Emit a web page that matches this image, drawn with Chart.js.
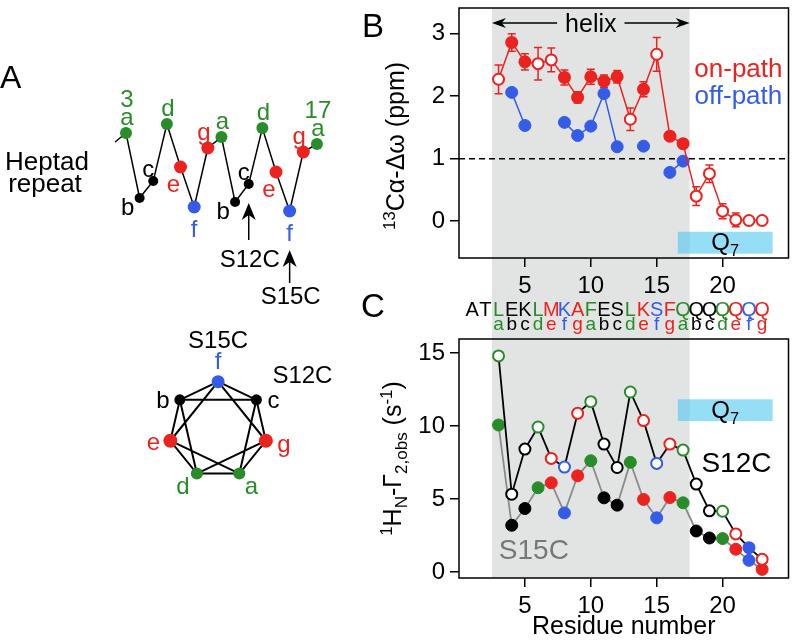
<!DOCTYPE html>
<html>
<head>
<meta charset="utf-8">
<script src="https://cdn.jsdelivr.net/npm/chart.js@4.4.0/dist/chart.umd.min.js"></script>
<style>
  body { margin: 0; background: #fff; }
  #fig { position: relative; width: 796px; height: 640px; overflow: hidden;
         font-family: "Liberation Sans", Arial, Helvetica, sans-serif; }
  canvas { position: absolute; }
  .lab { position: absolute; color: #000; line-height: 1; white-space: nowrap; }
</style>
</head>
<body>
<div id="fig">
  <canvas id="heptad" width="360" height="330" style="left:0px;top:0px"></canvas>
  <canvas id="wheel" width="240" height="200" style="left:100px;top:330px"></canvas>
  <canvas id="chartB" width="456" height="296" style="left:340px;top:0px"></canvas>
  <canvas id="chartC" width="456" height="344" style="left:340px;top:296px"></canvas>
  <div class="lab" style="left:0px;top:61px;font-size:32px">A</div>
  <div class="lab" style="left:362px;top:9px;font-size:33px">B</div>
  <div class="lab" style="left:361px;top:289px;font-size:33px">C</div>
  <div class="lab" style="left:0px;top:148px;width:94px;text-align:center;font-size:26px;line-height:26px">Heptad</div>
  <div class="lab" style="left:0px;top:170px;width:90px;text-align:center;font-size:26px;line-height:26px">repeat</div>
</div>
<script>
// ---- data ----
const residues = [3, 4, 5, 6, 7, 8, 9, 10, 11, 12, 13, 14, 15, 16, 17, 18, 19, 20, 21, 22, 23];
const heptad = ['a', 'b', 'c', 'd', 'e', 'f', 'g', 'a', 'b', 'c', 'd', 'e', 'f', 'g', 'a', 'b', 'c', 'd', 'e', 'f', 'g'];
const sequence = ['A', 'T', 'L', 'E', 'K', 'L', 'M', 'K', 'A', 'F', 'E', 'S', 'L', 'K', 'S', 'F', 'Q', 'Q', 'Q', 'Q', 'Q', 'Q', 'Q'];

// B: 13C alpha secondary shifts (ppm)
const onPath = [2.27, 2.86, 2.55, 2.52, 2.58, 2.30, 1.98, 2.31, 2.24, 2.31, 1.63, 2.11, 2.67, 1.36, 1.24, 0.40, 0.76, 0.16, 0.02, 0.01, 0.01];
const onPathErr = [0.23, 0.14, 0.13, 0.26, 0.19, 0.12, 0.09, 0.12, 0.1, 0.1, 0.18, 0.12, 0.27, 0.05, 0.05, 0.15, 0.14, 0.12, 0.11, 0, 0];
const onPathFilled = [0, 1, 1, 0, 0, 1, 1, 1, 1, 1, 0, 1, 0, 1, 1, 0, 0, 0, 0, 0, 0];
const offPath = [null, 2.06, 1.53, null, null, 1.58, 1.37, 1.52, 2.04, 1.19, null, 1.20, null, 0.78, 0.96, null, null, null, null, null, null];

// C: PRE rates (s-1)
const s12c = [14.8, 5.33, 8.42, 9.93, 7.78, 7.19, 10.87, 11.67, 8.76, 7.16, 12.33, 10.37, 7.44, 8.76, 8.35, 6.02, 4.19, 4.16, 2.61, 1.67, 0.87];
const s12cFilled = [0, 0, 0, 0, 0, 0, 0, 0, 0, 0, 0, 0, 0, 0, 0, 0, 0, 0, 0, 1, 0];
const s15c = [10.07, 3.20, 4.35, 5.77, 6.11, 4.05, 6.59, 7.62, 5.08, 4.58, 7.51, 4.97, 3.71, 5.10, 4.74, 2.81, 2.33, 2.29, 1.56, 0.80, 0.18];

// tick labels
const xTicks = [5, 10, 15, 20];
const yTicksB = [0, 1, 2, 3];
const yTicksC = [0, 5, 10, 15];

// ranges (residue / value space)
const helixRange = [2.5, 17.5];
const q7Range = [16.6, 23.8];
const q7B = [-0.52, -0.17];
const q7C = [10.34, 11.83];

// A: heptad zigzag (residues 3-17, height in arbitrary units)
const zigResidues = [3, 4, 5, 6, 7, 8, 9, 10, 11, 12, 13, 14, 15, 16, 17];
const zigHeight = [87, 22, 39, 96, 53, 13, 72, 83, 18, 36, 92, 48, 9, 68, 76];
const zigStub = { x: 2.2, y: 78 };
const wheelOrder = ['f', 'c', 'g', 'a', 'd', 'e', 'b']; // clockwise from top

// ---- style ----
const FONT = '"Liberation Sans", Arial, Helvetica, sans-serif';
const RED = 'rgb(236,34,30)';
const BLUE = 'rgb(52,92,232)';
const GREEN = 'rgb(40,140,40)';
const BLACK = '#000';
const GRAY = '#8a8a8a';
const SHADE = 'rgb(226,228,228)';
const CYAN = 'rgba(80,200,240,0.6)';
const heptadColor = { a: GREEN, b: BLACK, c: BLACK, d: GREEN, e: RED, f: BLUE, g: RED };

Chart.defaults.font.family = FONT;
Chart.defaults.color = '#000';
Chart.defaults.animation = false;
Chart.defaults.events = [];
Chart.defaults.plugins.legend.display = false;
Chart.defaults.plugins.tooltip.enabled = false;

// text with super/subscripts
function rich(ctx, parts, x, y, size, color, vertical) {
  ctx.save();
  ctx.translate(x, y);
  if (vertical) ctx.rotate(-Math.PI / 2);
  ctx.fillStyle = color;
  ctx.textBaseline = 'alphabetic';
  ctx.textAlign = 'left';
  let w = 0;
  const m = parts.map(([t, k]) => {
    const s = k ? size * 0.68 : size;
    ctx.font = s + 'px ' + FONT;
    const pw = ctx.measureText(t).width;
    w += pw;
    return [t, k, s, pw];
  });
  let cx = -w / 2;
  const base = size * 0.36;
  m.forEach(([t, k, s, pw]) => {
    ctx.font = s + 'px ' + FONT;
    const dy = k === 'sup' ? -size * 0.38 : k === 'sub' ? size * 0.24 : 0;
    ctx.fillText(t, cx, base + dy);
    cx += pw;
  });
  ctx.restore();
}
function txt(ctx, s, x, y, size, color) { rich(ctx, [[s, '']], x, y, size, color); }

function arrowHead(ctx, x, y, dx, dy, len, half) {
  // tip at (x,y), pointing along (dx,dy)
  const px = -dy, py = dx;
  ctx.beginPath();
  ctx.moveTo(x, y);
  ctx.lineTo(x - dx * len + px * half, y - dy * len + py * half);
  ctx.lineTo(x - dx * len * 0.7, y - dy * len * 0.7);
  ctx.lineTo(x - dx * len - px * half, y - dy * len - py * half);
  ctx.closePath();
  ctx.fill();
}

function frame(chart) {
  const a = chart.chartArea, ctx = chart.ctx;
  ctx.save();
  ctx.strokeStyle = '#000';
  ctx.lineWidth = 1.5;
  ctx.strokeRect(a.left, a.top, a.right - a.left, a.bottom - a.top);
  ctx.restore();
}

function q7Box(chart, yr) {
  const xs = chart.scales.x, ys = chart.scales.y, ctx = chart.ctx;
  const x0 = xs.getPixelForValue(q7Range[0]), x1 = xs.getPixelForValue(q7Range[1]);
  const y0 = ys.getPixelForValue(yr[1]), y1 = ys.getPixelForValue(yr[0]);
  ctx.save();
  ctx.fillStyle = CYAN;
  ctx.fillRect(x0, y0, x1 - x0, y1 - y0);
  ctx.restore();
  rich(ctx, [['Q', ''], ['7', 'sub']], (x0 + x1) / 2, (y0 + y1) / 2 - 1, 24, '#000');
}

function xScale(height) {
  return {
    type: 'linear', min: 0, max: 25,
    afterBuildTicks: s => { s.ticks = xTicks.map(v => ({ value: v })); },
    afterFit: s => { s.height = height; s.paddingLeft = 0; s.paddingRight = 0; },
    ticks: { font: { size: 24 }, color: '#000', padding: 5, maxRotation: 0 },
    grid: { drawOnChartArea: false, tickLength: 9, color: '#000', lineWidth: 1.5 },
    border: { display: false }
  };
}
function yScale(min, max, ticks) {
  return {
    type: 'linear', min: min, max: max,
    afterBuildTicks: s => { s.ticks = ticks.map(v => ({ value: v })); },
    afterFit: s => { s.width = 119; s.paddingTop = 0; s.paddingBottom = 0; },
    ticks: { font: { size: 24 }, color: '#000', padding: 5 },
    grid: { drawOnChartArea: false, tickLength: 9, color: '#000', lineWidth: 1.5 },
    border: { display: false }
  };
}

// ---- panel B ----
const pluginB = {
  id: 'panelB',
  beforeDraw(chart) {
    const xs = chart.scales.x, ctx = chart.ctx, a = chart.chartArea;
    const x0 = xs.getPixelForValue(helixRange[0]), x1 = xs.getPixelForValue(helixRange[1]);
    ctx.save();
    ctx.fillStyle = SHADE;
    ctx.fillRect(x0, a.top, x1 - x0, chart.height - a.top);
    ctx.restore();
  },
  beforeDatasetsDraw(chart) {
    const xs = chart.scales.x, ys = chart.scales.y, ctx = chart.ctx, a = chart.chartArea;
    q7Box(chart, q7B);
    // dashed line at 1 ppm
    ctx.save();
    ctx.strokeStyle = '#000';
    ctx.lineWidth = 1.5;
    ctx.setLineDash([6, 4]);
    ctx.beginPath();
    ctx.moveTo(a.left, ys.getPixelForValue(1));
    ctx.lineTo(a.right, ys.getPixelForValue(1));
    ctx.stroke();
    ctx.setLineDash([]);
    // error bars
    ctx.strokeStyle = RED;
    ctx.lineWidth = 1.5;
    residues.forEach((r, i) => {
      const e = onPathErr[i];
      if (!e) return;
      const x = xs.getPixelForValue(r);
      const yt = ys.getPixelForValue(onPath[i] + e), yb = ys.getPixelForValue(onPath[i] - e);
      ctx.beginPath();
      ctx.moveTo(x, yt); ctx.lineTo(x, yb);
      ctx.moveTo(x - 4, yt); ctx.lineTo(x + 4, yt);
      ctx.moveTo(x - 4, yb); ctx.lineTo(x + 4, yb);
      ctx.stroke();
    });
    ctx.restore();
  },
  afterDraw(chart) {
    const xs = chart.scales.x, ys = chart.scales.y, ctx = chart.ctx, a = chart.chartArea;
    frame(chart);
    // helix arrow
    const y = ys.getPixelForValue(3.17);
    const x0 = xs.getPixelForValue(helixRange[0]), x1 = xs.getPixelForValue(helixRange[1]);
    const xm = xs.getPixelForValue(10);
    ctx.save();
    ctx.font = '25px ' + FONT;
    const tw = ctx.measureText('helix').width;
    ctx.strokeStyle = '#000';
    ctx.fillStyle = '#000';
    ctx.lineWidth = 1.5;
    ctx.beginPath();
    ctx.moveTo(x0 + 4, y); ctx.lineTo(xm - tw / 2 - 8, y);
    ctx.moveTo(xm + tw / 2 + 8, y); ctx.lineTo(x1 - 4, y);
    ctx.stroke();
    arrowHead(ctx, x0, y, -1, 0, 14, 5);
    arrowHead(ctx, x1, y, 1, 0, 14, 5);
    ctx.restore();
    txt(ctx, 'helix', xm, y, 25, '#000');
    txt(ctx, 'on-path', xs.getPixelForValue(21.2), ys.getPixelForValue(2.46), 26, RED);
    txt(ctx, 'off-path', xs.getPixelForValue(21.2), ys.getPixelForValue(2.03), 26, BLUE);
    // y title
    rich(ctx, [['13', 'sup'], ['C\u03b1-\u0394\u03c9 (ppm)', '']], a.left - 64, (a.top + a.bottom) / 2 + 13, 25, '#000', true);
  }
};

new Chart(document.getElementById('chartB'), {
  type: 'scatter',
  data: {
    datasets: [
      {
        data: residues.map((r, i) => ({ x: r, y: onPath[i] })),
        showLine: true, borderColor: RED, borderWidth: 1.5,
        pointBackgroundColor: onPathFilled.map(f => f ? RED : '#fff'),
        pointBorderColor: RED, pointBorderWidth: 2, pointRadius: 5.5
      },
      {
        data: residues.map((r, i) => ({ x: r, y: offPath[i] })),
        showLine: true, spanGaps: false, borderColor: BLUE, borderWidth: 1.5,
        pointBackgroundColor: BLUE, pointBorderColor: BLUE, pointBorderWidth: 1, pointRadius: 6
      }
    ]
  },
  options: {
    responsive: false, devicePixelRatio: 1,
    layout: { padding: { top: 8, right: 4, left: 0, bottom: 0 } },
    scales: { x: xScale(38), y: yScale(-0.59, 3.41, yTicksB) }
  },
  plugins: [pluginB]
});

// ---- panel C ----
const pluginC = {
  id: 'panelC',
  beforeDraw(chart) {
    const xs = chart.scales.x, ctx = chart.ctx, a = chart.chartArea;
    const x0 = xs.getPixelForValue(helixRange[0]), x1 = xs.getPixelForValue(helixRange[1]);
    ctx.save();
    ctx.fillStyle = SHADE;
    ctx.fillRect(x0, 0, x1 - x0, a.bottom);
    ctx.restore();
  },
  beforeDatasetsDraw(chart) {
    q7Box(chart, q7C);
  },
  afterDraw(chart) {
    const xs = chart.scales.x, ys = chart.scales.y, ctx = chart.ctx, a = chart.chartArea;
    frame(chart);
    // sequence and heptad positions
    ctx.save();
    ctx.textAlign = 'center';
    ctx.textBaseline = 'alphabetic';
    sequence.forEach((s, i) => {
      const r = i + 1;
      const h = r >= 3 ? heptad[r - 3] : null;
      ctx.fillStyle = h ? heptadColor[h] : '#000';
      ctx.font = '20px ' + FONT;
      ctx.fillText(s, xs.getPixelForValue(r), a.top - 23);
      if (h) {
        ctx.font = '19px ' + FONT;
        ctx.fillText(h, xs.getPixelForValue(r), a.top - 9);
      }
    });
    ctx.restore();
    txt(ctx, 'S12C', xs.getPixelForValue(21.05), ys.getPixelForValue(7.53), 28, '#000');
    txt(ctx, 'S15C', xs.getPixelForValue(5.68), ys.getPixelForValue(1.56), 28, '#777');
    txt(ctx, 'Residue number', (a.left + a.right) / 2, a.bottom + 47, 25, '#000');
    rich(ctx, [['1', 'sup'], ['H', ''], ['N', 'sub'], ['-\u0393', ''], ['2,obs', 'sub'], [' (s', ''], ['-1', 'sup'], [')', '']],
      a.left - 67, (a.top + a.bottom) / 2, 25, '#000', true);
  }
};

new Chart(document.getElementById('chartC'), {
  type: 'scatter',
  data: {
    datasets: [
      {
        data: residues.map((r, i) => ({ x: r, y: s12c[i] })),
        showLine: true, borderColor: BLACK, borderWidth: 1.8,
        pointBackgroundColor: heptad.map((h, i) => s12cFilled[i] ? heptadColor[h] : '#fff'),
        pointBorderColor: heptad.map(h => heptadColor[h]), pointBorderWidth: 2, pointRadius: 5.5
      },
      {
        data: residues.map((r, i) => ({ x: r, y: s15c[i] })),
        showLine: true, borderColor: GRAY, borderWidth: 1.8,
        pointBackgroundColor: heptad.map(h => heptadColor[h]),
        pointBorderColor: heptad.map(h => heptadColor[h]), pointBorderWidth: 1, pointRadius: 6
      }
    ]
  },
  options: {
    responsive: false, devicePixelRatio: 1,
    layout: { padding: { top: 43, right: 4, left: 0, bottom: 0 } },
    scales: { x: xScale(62), y: yScale(-0.41, 15.96, yTicksC) }
  },
  plugins: [pluginC]
});

// ---- panel A: heptad zigzag ----
const labelOffset = { a: [1, -17], b: [-12, 8], c: [-5, -13], d: [1, -17], e: [-7, 16], f: [0, 21], g: [-4, -17] };
const markerSize = { a: 6, b: 5, c: 5, d: 6, e: 6.5, f: 6.5, g: 6.5 };
const zigLetters = zigResidues.map((r, i) => heptad[i]);

const pluginA = {
  id: 'panelA',
  afterDraw(chart) {
    const xs = chart.scales.x, ys = chart.scales.y, ctx = chart.ctx;
    zigResidues.forEach((r, i) => {
      const l = zigLetters[i];
      const x = xs.getPixelForValue(r), y = ys.getPixelForValue(zigHeight[i]);
      const o = labelOffset[l];
      txt(ctx, l, x + o[0], y + o[1], 24, heptadColor[l]);
      if (i === 0 || i === zigResidues.length - 1) txt(ctx, String(r), x + 1, y - 35, 24, GREEN);
    });
    const arrows = [[12, 'S12C', 19, 56, 74], [15, 'S15C', 39, 72, 84]];
    ctx.save();
    ctx.strokeStyle = '#000';
    ctx.fillStyle = '#000';
    ctx.lineWidth = 1.5;
    arrows.forEach(([r, name, tip, tail, lab]) => {
      const i = zigResidues.indexOf(r);
      const x = xs.getPixelForValue(r), y = ys.getPixelForValue(zigHeight[i]);
      ctx.beginPath();
      ctx.moveTo(x, y + tip + 10); ctx.lineTo(x, y + tail);
      ctx.stroke();
      arrowHead(ctx, x, y + tip, 0, -1, 17, 7);
      txt(ctx, name, x + 1, y + lab, 24, '#000');
    });
    ctx.restore();
  }
};

new Chart(document.getElementById('heptad'), {
  type: 'scatter',
  data: {
    datasets: [{
      data: [zigStub].concat(zigResidues.map((r, i) => ({ x: r, y: zigHeight[i] }))),
      showLine: true, borderColor: '#000', borderWidth: 1.5,
      pointRadius: [0].concat(zigLetters.map(l => markerSize[l])),
      pointBackgroundColor: ['#000'].concat(zigLetters.map(l => heptadColor[l])),
      pointBorderWidth: 0
    }]
  },
  options: {
    responsive: false, devicePixelRatio: 1,
    layout: { padding: { left: 98.7, right: 15.8, top: 20, bottom: 10 } },
    scales: {
      x: { type: 'linear', display: false, min: 1, max: 19 },
      y: { type: 'linear', display: false, min: -100, max: 200 }
    }
  },
  plugins: [pluginA]
});

// ---- panel A: helical wheel ----
const wheelPts = wheelOrder.map((l, k) => ({ x: Math.sin(k * 2 * Math.PI / 7), y: Math.cos(k * 2 * Math.PI / 7) }));
const outline = [0, 1, 2, 3, 4, 5, 6, 0];
const star = [0, 2, 4, 6, 1, 3, 5, 0];
const wheelLabel = { f: [0, -21], c: [17, 0], g: [18, 3], a: [12, 12], d: [-14, 12], e: [-17, 1], b: [-17, 0] };
const wheelSize = { a: 6, b: 5.5, c: 5.5, d: 6, e: 7, f: 6.5, g: 7 };

const pluginW = {
  id: 'wheel',
  afterDraw(chart) {
    const xs = chart.scales.x, ys = chart.scales.y, ctx = chart.ctx;
    wheelOrder.forEach((l, k) => {
      const x = xs.getPixelForValue(wheelPts[k].x), y = ys.getPixelForValue(wheelPts[k].y);
      txt(ctx, l, x + wheelLabel[l][0], y + wheelLabel[l][1], 24, heptadColor[l]);
      if (l === 'f') txt(ctx, 'S15C', x, y - 42, 24, '#000');
      if (l === 'c') txt(ctx, 'S12C', x + 46, y - 25, 24, '#000');
    });
  }
};

new Chart(document.getElementById('wheel'), {
  type: 'scatter',
  data: {
    datasets: [
      { data: wheelOrder.map((l, k) => wheelPts[k]), pointRadius: wheelOrder.map(l => wheelSize[l]),
        pointBackgroundColor: wheelOrder.map(l => heptadColor[l]), pointBorderWidth: 0 },
      { data: outline.map(k => wheelPts[k]), showLine: true, borderColor: '#000', borderWidth: 2, pointRadius: 0 },
      { data: star.map(k => wheelPts[k]), showLine: true, borderColor: '#000', borderWidth: 2, pointRadius: 0 }
    ]
  },
  options: {
    responsive: false, devicePixelRatio: 1,
    layout: { padding: 0 },
    scales: {
      x: { type: 'linear', display: false, min: -2.269, max: 2.346 },
      y: { type: 'linear', display: false, min: -1.923, max: 1.923 }
    }
  },
  plugins: [pluginW]
});
</script>
</body>
</html>
